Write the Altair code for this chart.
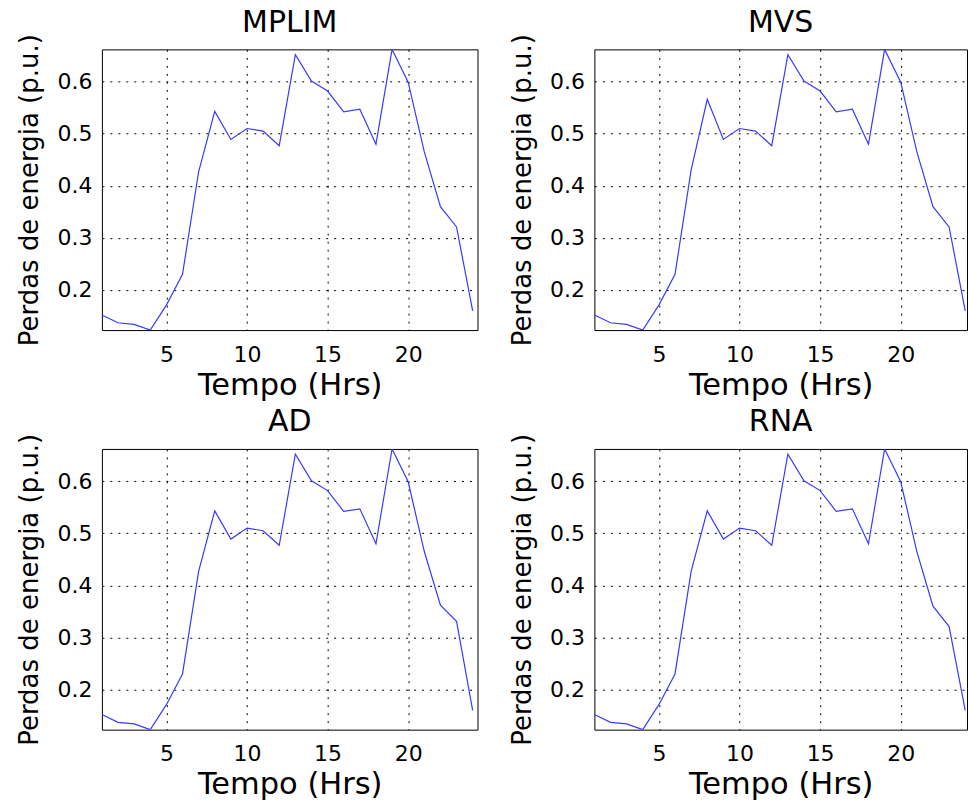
import altair as alt
import pandas as pd

hours = list(range(1, 25))
mplim = [0.152, 0.137, 0.134, 0.123, 0.171, 0.230, 0.427, 0.543, 0.489, 0.510, 0.505, 0.477,
         0.652, 0.601, 0.582, 0.542, 0.547, 0.480, 0.662, 0.599, 0.465, 0.360, 0.321, 0.160]
mvs = [0.152, 0.137, 0.134, 0.123, 0.171, 0.230, 0.430, 0.566, 0.489, 0.510, 0.505, 0.477,
       0.652, 0.601, 0.582, 0.542, 0.547, 0.480, 0.662, 0.599, 0.465, 0.360, 0.321, 0.160]
ad = [0.152, 0.137, 0.134, 0.123, 0.171, 0.230, 0.427, 0.543, 0.489, 0.510, 0.505, 0.477,
      0.652, 0.601, 0.582, 0.542, 0.547, 0.480, 0.662, 0.599, 0.465, 0.362, 0.331, 0.160]
rna = [0.152, 0.137, 0.134, 0.123, 0.171, 0.230, 0.427, 0.543, 0.489, 0.510, 0.505, 0.477,
       0.652, 0.601, 0.582, 0.542, 0.547, 0.480, 0.662, 0.599, 0.465, 0.360, 0.321, 0.160]

titles = ["MPLIM", "MVS", "AD", "RNA"]
series = [mplim, mvs, ad, rna]
x_ticks = [5, 10, 15, 20]
y_ticks = [0.2, 0.3, 0.4, 0.5, 0.6]

FONT = "DejaVu Sans"


def panel(name, values, width, xmax):
    df = pd.DataFrame({"hora": hours, "perdas": values})
    return (
        alt.Chart(df, title=alt.TitleParams(name, fontSize=30, font=FONT, fontWeight="normal",
                                            color="black", anchor="middle", offset=-4))
        .mark_line(color="#3a3aff", strokeWidth=1.2, clip=True)
        .encode(
            x=alt.X("hora:Q",
                    scale=alt.Scale(domain=[1, xmax], nice=False, zero=False),
                    axis=alt.Axis(values=x_ticks, title="Tempo (Hrs)", ticks=False,
                                  labelPadding=14, titlePadding=5)),
            y=alt.Y("perdas:Q",
                    scale=alt.Scale(domain=[0.123, 0.662], nice=False, zero=False),
                    axis=alt.Axis(values=y_ticks, format=".1f", title="Perdas de energia (p.u.)",
                                  ticks=False, labelPadding=10, titlePadding=14)),
        )
        .properties(width=width, height=281)
    )


charts = [
    panel(titles[0], series[0], 376, 24.3),
    panel(titles[1], series[1], 373, 24.11),
    panel(titles[2], series[2], 376, 24.3),
    panel(titles[3], series[3], 373, 24.11),
]

chart = (
    alt.concat(*charts, columns=2, spacing={"row": 119, "column": 117}, bounds="flush")
    .properties(padding={"left": 16, "top": 6, "right": 0, "bottom": 0}, background="white")
    .configure_view(stroke="black", strokeWidth=1)
    .configure_axis(
        grid=True, gridColor="black", gridDash=[2, 6], gridWidth=1, gridOpacity=1,
        domain=False,
        labelFont=FONT, labelFontSize=22, labelColor="black",
        titleFont=FONT, titleColor="black", titleFontWeight="normal",
    )
    .configure_axisX(titleFontSize=30.5)
    .configure_axisY(titleFontSize=26)
)

chart.save("out.html", embed_options={"renderer": "svg", "actions": False})
